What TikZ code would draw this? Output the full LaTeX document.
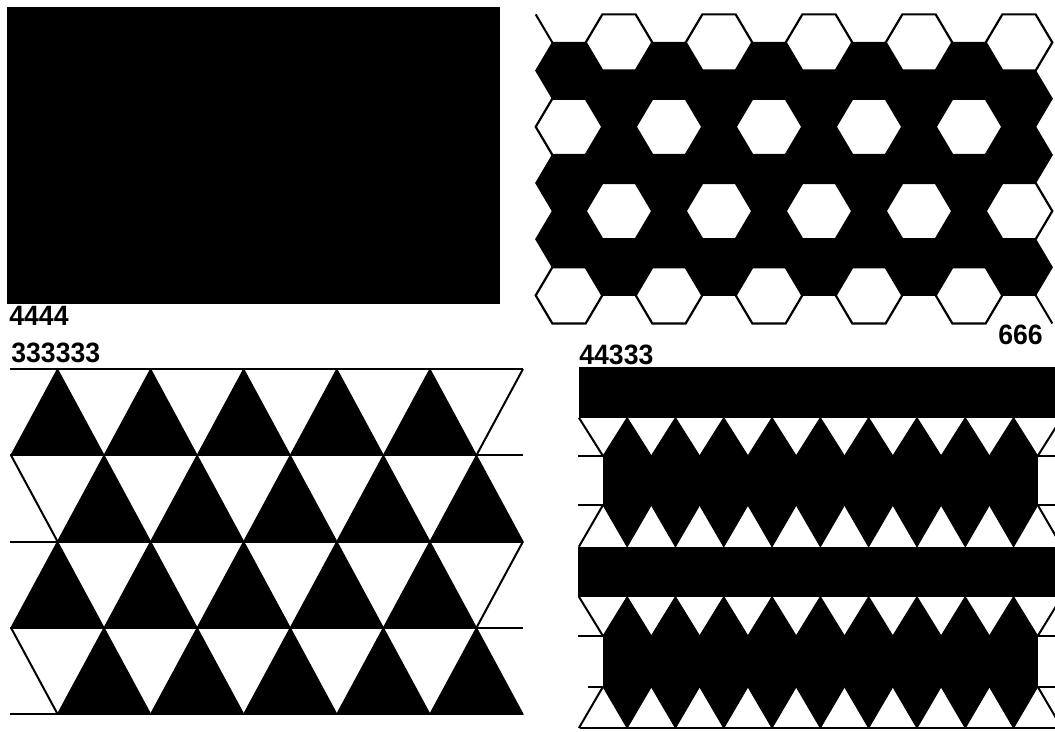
\documentclass[tikz,border=0pt]{standalone}
\usepackage{fontspec}
\setmainfont{Liberation Sans}
\newfontfamily\tagfont[FakeStretch=0.95]{Liberation Sans}
\begin{document}
\begin{tikzpicture}[x=0.5pt,y=-0.5pt,line join=miter,
  ink/.style={fill=black,draw=black,line width=0.5pt},
  edge/.style={draw=black,line width=1pt},
  hole/.style={fill=white,draw=black,line width=1.1pt},
  lbl/.style={font=\tagfont\fontsize{14}{14}\selectfont\bfseries,inner sep=0pt,anchor=base west}]
\useasboundingbox (0,0) rectangle (1055,732);
\begin{scope}
\clip (0,0) rectangle (1055,732);

\fill (7,7) rectangle (500,304.5);
\node[lbl](n4444) at (9,326){4444};

\foreach \cx in {619,719,...,1019} \foreach \cy in {98.7,154.9,267.3}
  {\path[ink] (\cx,\cy) ++(-33.3,0) -- ++(16.65,-28.1) -- ++(33.3,0) -- ++(16.65,28.1) -- ++(-16.65,28.1) -- ++(-33.3,0) -- cycle;}
\foreach \cx in {569,669,...,969} \foreach \cy in {70.6,183,239.2}
  {\path[ink] (\cx,\cy) ++(-33.3,0) -- ++(16.65,-28.1) -- ++(33.3,0) -- ++(16.65,28.1) -- ++(-16.65,28.1) -- ++(-33.3,0) -- cycle;}
\foreach \cx in {619,719,...,1019} \foreach \cy in {42.5,211.1}
  {\path[hole] (\cx,\cy) ++(-33.3,0) -- ++(16.65,-28.1) -- ++(33.3,0) -- ++(16.65,28.1) -- ++(-16.65,28.1) -- ++(-33.3,0) -- cycle;}
\foreach \cx in {569,669,...,969} \foreach \cy in {126.8,295.4}
  {\path[hole] (\cx,\cy) ++(-33.3,0) -- ++(16.65,-28.1) -- ++(33.3,0) -- ++(16.65,28.1) -- ++(-16.65,28.1) -- ++(-33.3,0) -- cycle;}
\draw[edge] (535.7,14.4) -- ++(16.65,28.1);
\draw[edge] (1035.7,295.4) -- ++(16.65,28.1);
\node[lbl](n666) at (998,345){666};

\foreach \ty in {369,541.5} {
  \foreach \k in {0,...,4} \path[ink] ({57.5+93.1*\k},\ty) -- ++(46.55,86.25) -- ++(-93.1,0) -- cycle;
  \draw[edge] (523,\ty) -- ++(-46.55,86.25);}
\foreach \ty in {455.25,627.75} {
  \foreach \k in {0,...,4} \path[ink] ({104.05+93.1*\k},\ty) -- ++(46.55,86.25) -- ++(-93.1,0) -- cycle;
  \draw[edge] (11,\ty) -- ++(46.55,86.25);}
\foreach \ty in {369,455.25,541.5,627.75,714} \draw[edge] (10,\ty) -- (523,\ty);
\node[lbl](n333333) at (11,363){333333};

\fill (579,367.3) rectangle (1055,417.7);
\fill (578,546.7) rectangle (1055,596.7);
\fill (603,456) rectangle (1037.7,505);
\fill (603,636) rectangle (1037.7,686.7);
\foreach \ta/\tb in {417.7/456,596.7/636} {
  \foreach \k in {0,...,8} \path[ink] ({627.15+48.3*\k},\ta) -- ({651.3+48.3*\k},\tb) -- ({603+48.3*\k},\tb) -- cycle;
  \draw[edge] (578.9,\ta) -- (603,\tb);
  \draw[edge] (1061.9,\ta) -- (1037.7,\tb);}
\foreach \ta/\tb in {505/546.7,686.7/728} {
  \foreach \k in {0,...,8} \path[ink] ({603+48.3*\k},\ta) -- ({651.3+48.3*\k},\ta) -- ({627.15+48.3*\k},\tb) -- cycle;
  \draw[edge] (603,\ta) -- (578.9,\tb);
  \draw[edge] (1037.7,\ta) -- (1061.9,\tb);}
\foreach \ty in {456,505,636} {\draw[edge] (578,\ty) -- (603,\ty); \draw[edge] (1037.7,\ty) -- (1055,\ty);}
\draw[edge] (588,686.7) -- (603,686.7); \draw[edge] (1037.7,686.7) -- (1055,686.7);
\draw[edge] (580,728) -- (1055,728);
\node[lbl](n44333) at (579,365){44333};
\end{scope}
\end{tikzpicture}
\end{document}
